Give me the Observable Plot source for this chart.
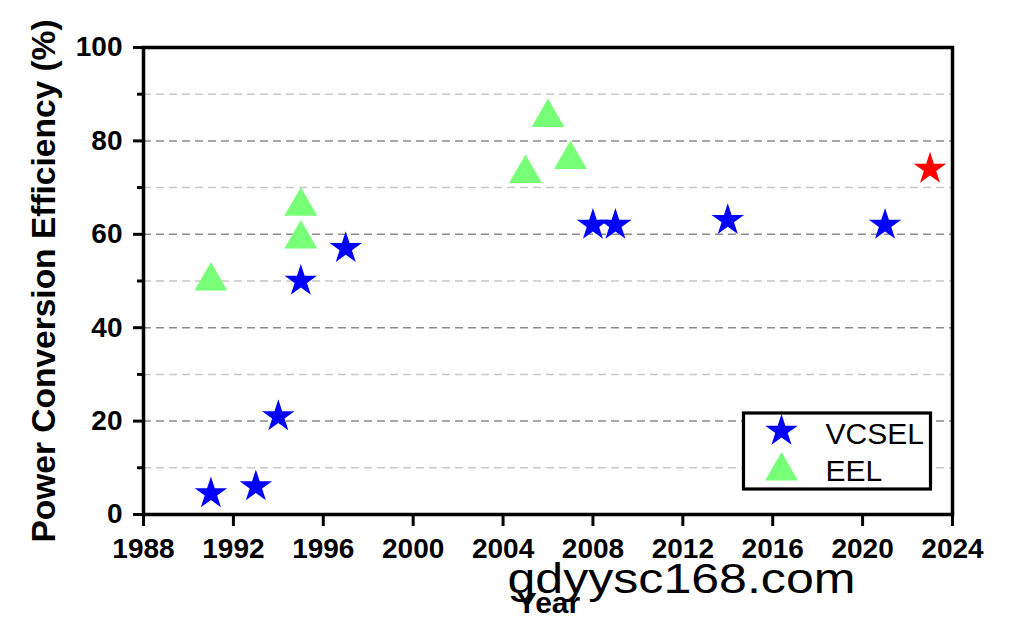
<!DOCTYPE html>
<html>
<head>
<meta charset="utf-8">
<script src="https://cdn.jsdelivr.net/npm/d3@7"></script>
<script src="https://cdn.jsdelivr.net/npm/@observablehq/plot@0.6"></script>
<style>
  html, body { margin: 0; padding: 0; background: #fff; }
  #chart svg { display: block; }
</style>
</head>
<body>
<div id="chart"></div>
<script>
// ---- data ----
const seriesNames = ["VCSEL", "EEL"];
const vcselYears = [1991, 1993, 1994, 1995, 1997, 2008, 2009, 2014, 2021];
const vcselPCE   = [4.5, 6, 21, 50, 57, 62, 62, 63, 62];
const eelYears   = [1991, 1995, 1995, 2005, 2006, 2007];
const eelPCE     = [50, 66, 59, 73, 85, 76];
const highlightYears = [2023];
const highlightPCE   = [74];
const xTicks = [1988, 1992, 1996, 2000, 2004, 2008, 2012, 2016, 2020, 2024];
const yMajorTicks = [0, 20, 40, 60, 80, 100];
const yMinorTicks = [10, 30, 50, 70, 90];
const xTitle = "Year";
const yTitle = "Power Conversion Efficiency (%)";
const watermark = "gdyysc168.com";

const vcsel = vcselYears.map((x, i) => ({year: x, pce: vcselPCE[i]}));
const eel = eelYears.map((x, i) => ({year: x, pce: eelPCE[i]}));
const highlight = highlightYears.map((x, i) => ({year: x, pce: highlightPCE[i]}));

const font = "'Liberation Sans', Arial, Helvetica, sans-serif";
const starR = 10.2, triR = 12.2;

const chart = Plot.plot({
  width: 1011,
  height: 623,
  marginLeft: 143,
  marginRight: 59,
  marginTop: 47,
  marginBottom: 109,
  style: {fontFamily: font, background: "#fff", color: "#000"},
  x: {domain: [1988, 2024]},
  y: {domain: [0, 100]},
  marks: [
    Plot.gridY(yMinorTicks, {stroke: "#c8c8c8", strokeOpacity: 1, strokeWidth: 1.5, strokeDasharray: "8,5"}),
    Plot.gridY(yMajorTicks.filter(d => d > 0 && d < 100), {stroke: "#8c8c8c", strokeOpacity: 1, strokeWidth: 1.5, strokeDasharray: "8,5"}),
    Plot.axisX(xTicks, {tickSize: 12, tickPadding: 12, fontSize: 28, fontWeight: "bold", strokeWidth: 3, label: null, tickFormat: "d"}),
    Plot.axisY(yMajorTicks, {tickSize: 10, tickPadding: 11, fontSize: 28, fontWeight: "bold", strokeWidth: 3, label: null, tickFormat: "d"}),
    Plot.axisY(yMinorTicks, {tickSize: 6, text: null, strokeWidth: 3, label: null}),
    Plot.frame({stroke: "#000", strokeWidth: 3.5}),
    Plot.dot(eel, {x: "year", y: "pce", symbol: "triangle", r: triR, fill: "#77ff77", stroke: "none"}),
    Plot.dot(vcsel, {x: "year", y: "pce", symbol: "star", r: starR, fill: "#0000ff", stroke: "none"}),
    Plot.dot(highlight, {x: "year", y: "pce", symbol: "star", r: starR, fill: "#ff0000", stroke: "none"}),
    // legend
    Plot.frame({stroke: "#000", strokeWidth: 3.2, fill: "#fff", insetLeft: 600, insetRight: 22, insetTop: 365.5, insetBottom: 25.5}),
    Plot.dot([seriesNames[0]], {frameAnchor: "bottom-right", dx: -171, dy: -83.5, symbol: "star", r: starR, fill: "#0000ff", stroke: "none"}),
    Plot.dot([seriesNames[1]], {frameAnchor: "bottom-right", dx: -171, dy: -43.5, symbol: "triangle", r: triR, fill: "#77ff77", stroke: "none"}),
    Plot.text([seriesNames[0]], {frameAnchor: "bottom-right", text: d => d, dx: -127, dy: -80.3, textAnchor: "start", lineAnchor: "middle", fontSize: 30, fill: "#000"}),
    Plot.text([seriesNames[1]], {frameAnchor: "bottom-right", text: d => d, dx: -127, dy: -43.6, textAnchor: "start", lineAnchor: "middle", fontSize: 30, fill: "#000"}),
    // titles
    Plot.text([yTitle], {frameAnchor: "left", text: d => d, rotate: -90, dx: -99, dy: 0, textAnchor: "middle", lineAnchor: "middle", fontSize: 33.5, fontWeight: "bold", fill: "#000"}),
    Plot.text([xTitle], {frameAnchor: "bottom", text: d => d, dx: 0.5, dy: 88.4, textAnchor: "middle", lineAnchor: "middle", fontSize: 30, fontWeight: "bold", fill: "#000"}),
    Plot.text([watermark], {frameAnchor: "bottom", text: d => d, dx: 133.5, dy: 64.6, textAnchor: "middle", lineAnchor: "middle", fontSize: 42, fontFamily: "'Liberation Sans', Arial, sans-serif", fill: "#000"})
  ]
});
document.getElementById("chart").appendChild(chart);
// stretch watermark to its measured width
for (const t of chart.querySelectorAll("text")) {
  if (t.textContent === watermark) {
    t.setAttribute("textLength", 348);
    t.setAttribute("lengthAdjust", "spacingAndGlyphs");
  }
}
</script>
</body>
</html>
